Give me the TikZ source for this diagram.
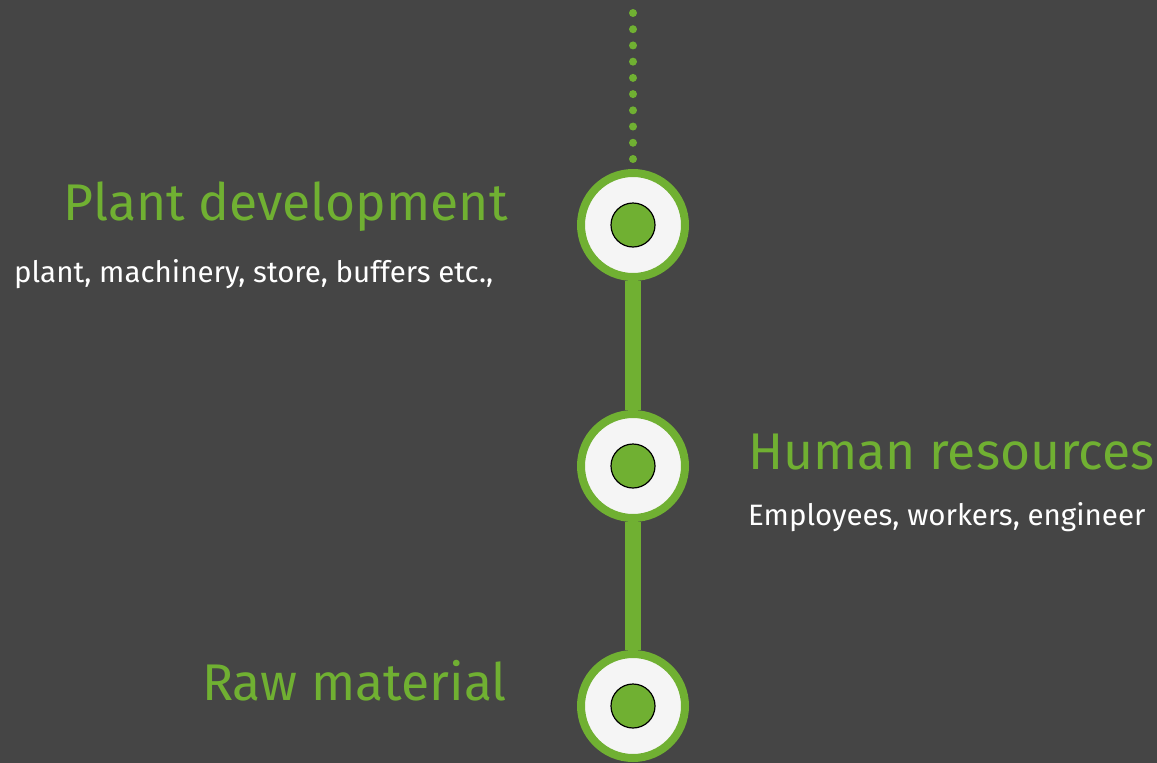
\documentclass[tikz,border=0pt]{standalone}
\usepackage{fontspec}
\setmainfont{Fira Sans}
\definecolor{bgc}{RGB}{69,69,69}
\definecolor{grn}{RGB}{112,176,50}
\definecolor{wht}{RGB}{245,245,245}
\pgfdeclarelayer{bgfill}
\pgfdeclarelayer{back}
\pgfsetlayers{bgfill,back,main}
\begin{document}
\begin{tikzpicture}[x=1pt,y=-1pt,
  ring/.style={circle,draw=grn,line width=8pt,fill=wht,minimum size=104pt,inner sep=0pt},
  dotc/.style={circle,draw=black,line width=1.2pt,fill=grn,minimum size=44pt,inner sep=0pt},
  title/.style={text=grn,font=\fontsize{51.6}{60}\selectfont,inner sep=0pt},
  sub/.style={text=white,font=\fontsize{29.5}{34}\selectfont,inner sep=0pt},
  link/.style={draw=grn,line width=16pt},
  dots/.style={draw=grn,line width=8pt,line cap=round,dash pattern=on 0pt off 16.22pt}]
\begin{pgfonlayer}{bgfill}
\fill[bgc] (0,0) rectangle (1157,763);
\end{pgfonlayer}
\useasboundingbox (0,0) rectangle (1157,763);
\node[ring] (c1) at (633,225) {};
\node[ring] (c2) at (633,466) {};
\node[ring] (c3) at (633,706) {};
\node[dotc] (d1) at (c1) {};
\node[dotc] (d2) at (c2) {};
\node[dotc] (d3) at (c3) {};
\coordinate (top) at (633,13);
\begin{pgfonlayer}{back}
\draw[link] (c1.south) -- (c2.north);
\draw[link] (c2.south) -- (c3.north);
\end{pgfonlayer}
\path[dots] (top) -- (633,159);
\node[title,anchor=base east] (t1) at (508,220) {Plant development};
\node[sub,anchor=base west] (s1) at (14,282) {plant, machinery, store, buffers etc.,};
\node[title,anchor=base west] (t2) at (748,469) {Human resources};
\node[sub,anchor=base west] (s2) at (748,525) {Employees, workers, engineer};
\node[title,anchor=base east] (t3) at (507,700) {Raw material};
\end{tikzpicture}
\end{document}
